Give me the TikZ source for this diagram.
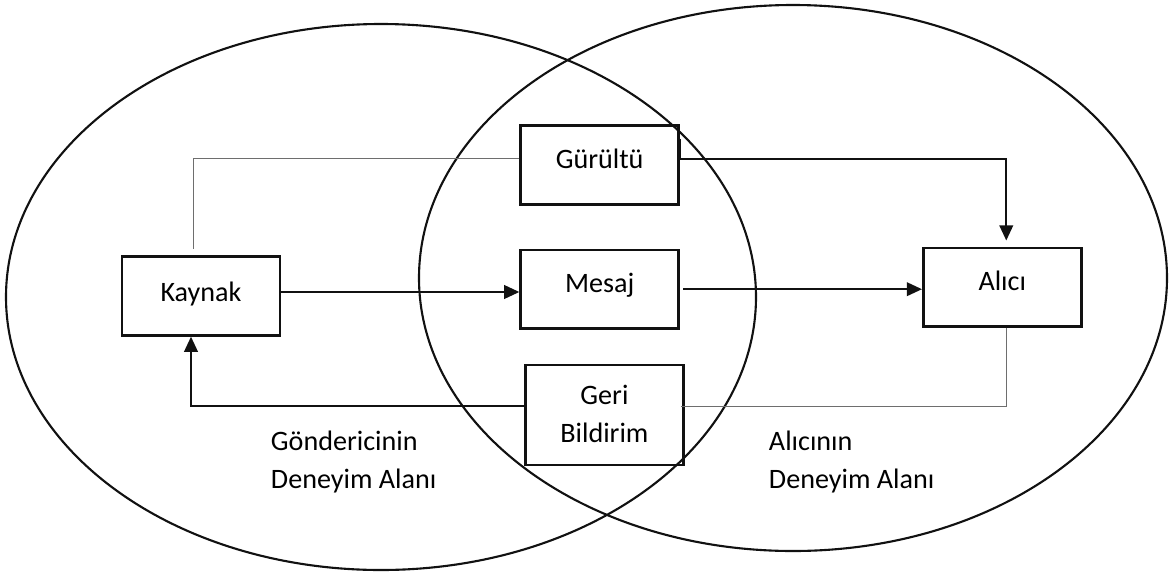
\documentclass[tikz,border=0pt]{standalone}
\usepackage{fontspec}
\setmainfont{Carlito}
\usetikzlibrary{arrows.meta,calc,positioning}
\definecolor{Ink}{HTML}{111111}
\definecolor{SoftGray}{HTML}{6E6E6E}
\tikzset{
  box/.style={
    draw=Ink, line width=1.8pt, text depth=0.33cm,
    minimum width=3.95cm, minimum height=1.97cm, align=center,
    font=\fontsize{20}{27}\selectfont
  },
  ring/.style={draw=Ink, line width=1.5pt},
  flow/.style={-{Triangle[length=3.8mm,width=3.4mm]}, line width=1.5pt, draw=Ink},
  softflow/.style={line width=0.7pt, draw=SoftGray},
  areatext/.style={align=left, anchor=west, font=\fontsize{20}{27}\selectfont}
}

\begin{document}
\begin{tikzpicture}[x=0.025cm,y=-0.025cm,node distance=1.0cm and 5.95cm]
    \useasboundingbox (0,0) rectangle (1173,574);
    \draw[ring] (381,297) ellipse [x radius=375, y radius=273];
    \draw[ring] (793,278) ellipse [x radius=374, y radius=273];
    \node[box,text depth=0.22cm] (kaynak) at (201,296) {Kaynak};
    \node[box,right=of kaynak,yshift=0.17cm] (mesaj) {Mesaj};
    \node[box,right=6.05cm of mesaj,yshift=0.05cm] (alici) {Alıcı};
    \node[box,above=1.075cm of mesaj] (gurultu) {Gürültü};
    \node[box,below=0.85cm of mesaj,xshift=0.12cm,minimum height=2.5cm,text depth=0.08cm] (geri) {Geri\\Bildirim};
    \node[areatext] (gonderen) at (266,462) {Göndericinin\\Deneyim Alanı};
    \node[areatext] (alan) at (764,462) {Alıcının\\Deneyim Alanı};
    \draw[softflow] ([yshift=0.15cm]gurultu.west) -| ([xshift=-0.2cm,yshift=0.15cm]kaynak.north);
    \draw[flow,shorten >=0.15cm] ([yshift=0.65cm]gurultu.east) -- ([yshift=0.15cm]gurultu.east) -| ([xshift=0.1cm]alici.north);
    \draw[flow] ([yshift=0.1cm]kaynak.east) -- ([yshift=0.1cm]kaynak.east -| mesaj.west);
    \draw[flow] ([xshift=0.08cm]mesaj.east) -- (mesaj.east -| alici.west);
    \draw[flow] ([yshift=0.225cm]geri.west) -| ([xshift=-0.25cm]kaynak.south);
    \draw[softflow] ([xshift=0.1cm]alici.south) |- ([xshift=-0.1cm,yshift=0.225cm]geri.east);
  \end{tikzpicture}
\end{document}
